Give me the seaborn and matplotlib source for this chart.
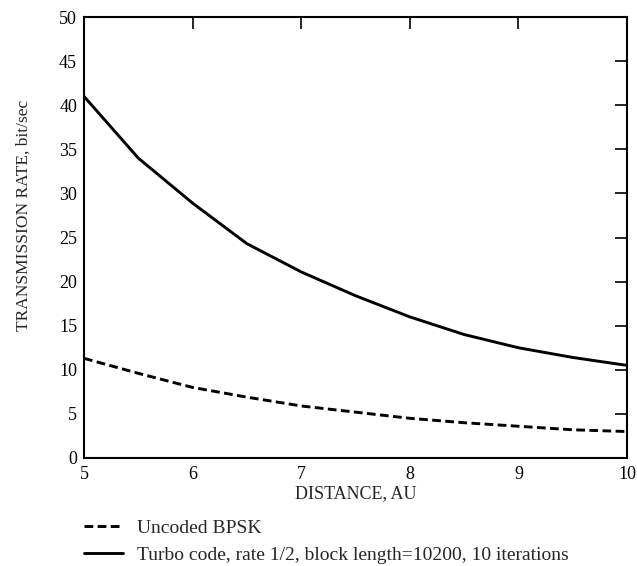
import matplotlib
matplotlib.use("Agg")
import matplotlib.pyplot as plt
import seaborn as sns
import pandas as pd
from matplotlib.lines import Line2D

distance = [5.0, 5.5, 6.0, 6.5, 7.0, 7.5, 8.0, 8.5, 9.0, 9.5, 10.0]
uncoded = [11.3, 9.6, 8.0, 6.9, 5.9, 5.2, 4.5, 4.0, 3.6, 3.2, 3.0]
turbo = [41.0, 34.0, 28.9, 24.3, 21.1, 18.4, 16.0, 14.0, 12.5, 11.4, 10.5]
series_names = ["Uncoded BPSK", "Turbo code, rate 1/2, block length=10200, 10 iterations"]
x_ticks = [5, 6, 7, 8, 9, 10]
y_ticks = [0, 5, 10, 15, 20, 25, 30, 35, 40, 45, 50]

sns.set_style("white")
plt.rcParams['font.family'] = ['Liberation Serif', 'DejaVu Serif']

fig = plt.figure(figsize=(6.37, 5.66), dpi=100)
ax = fig.add_axes([84/637, 108/566, (627-84)/637, (458-17)/566])

dash = (0, (3, 1.5))
df_u = pd.DataFrame({"d": distance, "r": uncoded})
df_t = pd.DataFrame({"d": distance, "r": turbo})
sns.lineplot(data=df_u, x="d", y="r", ax=ax, color="black", lw=2.1,
             linestyle=dash)
sns.lineplot(data=df_t, x="d", y="r", ax=ax, color="black", lw=2.1)

ax.set_xlim(5, 10)
ax.set_ylim(0, 50)
ax.set_xticks(x_ticks)
ax.set_yticks(y_ticks)
ax.tick_params(direction="in", length=8.6, width=1.2, top=True, right=True,
               labelsize=13, pad=5, colors="black")
ax.tick_params(axis="x", pad=6)
for s in ax.spines.values():
    s.set_color("black")
    s.set_linewidth(1.5)
ax.set_xlabel("DISTANCE, AU", fontsize=13, labelpad=1)
ax.set_ylabel("TRANSMISSION RATE, bit/sec", fontsize=12.5)
ax.yaxis.set_label_coords(-0.096, 0.551)

handles = [Line2D([], [], color="black", lw=2.1, linestyle=dash),
           Line2D([], [], color="black", lw=2.1)]
fig.legend(handles, series_names, loc="upper left",
           bbox_to_anchor=(84/637, 1 - 519/566), frameon=False,
           fontsize=14, handlelength=2.0, handletextpad=0.72,
           labelspacing=0.5, borderaxespad=0, borderpad=0)

fig.savefig("out.png", dpi=100)
